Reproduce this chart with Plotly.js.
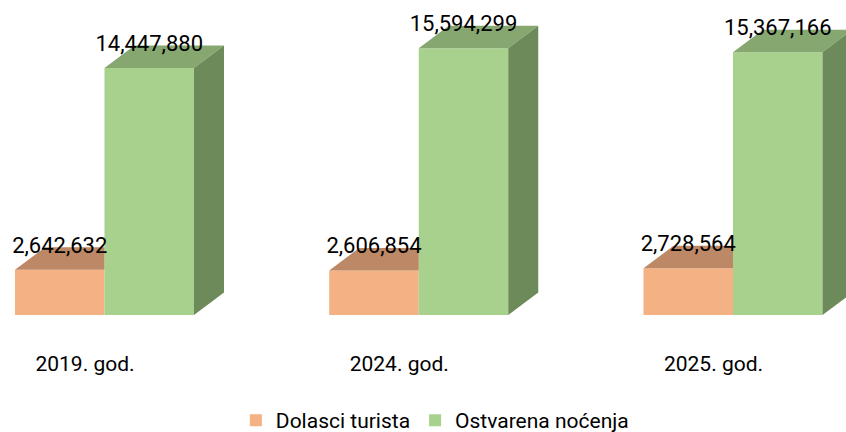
<!DOCTYPE html>
<html>
<head>
<meta charset="utf-8">
<script src="https://cdn.plot.ly/plotly-3.0.1.min.js"></script>
<style>html,body{margin:0;padding:0;background:#fff;}#chart{width:846px;height:432px;}</style>
</head>
<body>
<div id="chart"></div>
<script>
// ---- data ----
const categories = ["2019. god.", "2024. god.", "2025. god."];
const seriesNames = ["Dolasci turista", "Ostvarena noćenja"];
const dolasci = [2642632, 2606854, 2728564];
const nocenja = [14447880, 15594299, 15367166];

// ---- styling / geometry ----
const frontColors = ["#F4B183", "#A9D18E"];
const topColors = ["#BC8866", "#86A870"];
const sideColors = ["#A77758", "#6C8A5A"];
const font = "Roboto, 'Liberation Sans', Arial, sans-serif";
const barW = 0.2848;          // width of one bar in x units
const depthX = 0.0955;        // 3D depth offset along x
const depthY = 1.316e6;       // 3D depth offset along y
const idx = categories.map((c, i) => i);
const values = [dolasci, nocenja];

const fmt = v => v.toLocaleString("en-US");

const traces = [];
// front faces as bars
values.forEach((vals, s) => {
  traces.push({
    type: "bar",
    name: seriesNames[s],
    x: idx,
    y: vals,
    marker: {color: frontColors[s], line: {width: 0}},
    hoverinfo: "skip",
    showlegend: true
  });
});

// 3D faces derived from the same values
values.forEach((vals, s) => {
  const tx = [], ty = [], sx = [], sy = [];
  vals.forEach((v, i) => {
    const x0 = i + (s === 0 ? -barW : 0);
    const x1 = x0 + barW;
    if (s === 0) {
      // top face, clipped where the neighbouring bar hides it
      tx.push(x0, x1, x1, x0 + depthX, x0, null);
      ty.push(v, v, v + depthY, v + depthY, v, null);
    } else {
      tx.push(x0, x1, x1 + depthX, x0 + depthX, x0, null);
      ty.push(v, v, v + depthY, v + depthY, v, null);
      sx.push(x1, x1 + depthX, x1 + depthX, x1, x1, null);
      sy.push(0, depthY, v + depthY, v, 0, null);
    }
  });
  traces.push({
    type: "scatter", mode: "lines", x: tx, y: ty, fill: "toself",
    fillcolor: topColors[s], line: {width: 0, color: topColors[s]},
    hoverinfo: "skip", showlegend: false
  });
  if (sx.length) {
    traces.push({
      type: "scatter", mode: "lines", x: sx, y: sy, fill: "toself",
      fillcolor: sideColors[s], line: {width: 0, color: sideColors[s]},
      hoverinfo: "skip", showlegend: false
    });
  }
});

// value labels
values.forEach((vals, s) => {
  traces.push({
    type: "scatter", mode: "text",
    x: idx.map(i => i + (s === 0 ? -barW / 2 : barW / 2)),
    y: vals.map(v => v + depthY),
    text: vals.map(fmt),
    textposition: "middle center",
    textfont: {family: font, size: 22, color: "#000"},
    hoverinfo: "skip", showlegend: false, cliponaxis: false
  });
});

const layout = {
  width: 846, height: 432,
  margin: {l: 0, r: 0, t: 0, b: 117, autoexpand: false},
  paper_bgcolor: "#fff", plot_bgcolor: "#fff",
  barmode: "group", bargap: 1 - 2 * barW, bargroupgap: 0,
  showlegend: true,
  xaxis: {
    range: [-0.3325, 2.3596], fixedrange: true, automargin: false,
    tickvals: idx.map(i => i - 0.062), ticktext: categories,
    tickfont: {family: font, size: 21, color: "#000"},
    showgrid: false, zeroline: false, showline: false, ticks: "",
    ticklabelstandoff: 34
  },
  yaxis: {
    range: [0, 18.42e6], fixedrange: true, visible: false,
    showgrid: false, zeroline: false
  },
  legend: {
    orientation: "h", x: 0.514, xanchor: "center", y: -0.335, yanchor: "middle",
    font: {family: font, size: 21, color: "#000"},
    traceorder: "normal"
  },
  font: {family: font, color: "#000"}
};

Plotly.newPlot("chart", traces, layout, {displayModeBar: false, staticPlot: true});
</script>
</body>
</html>
